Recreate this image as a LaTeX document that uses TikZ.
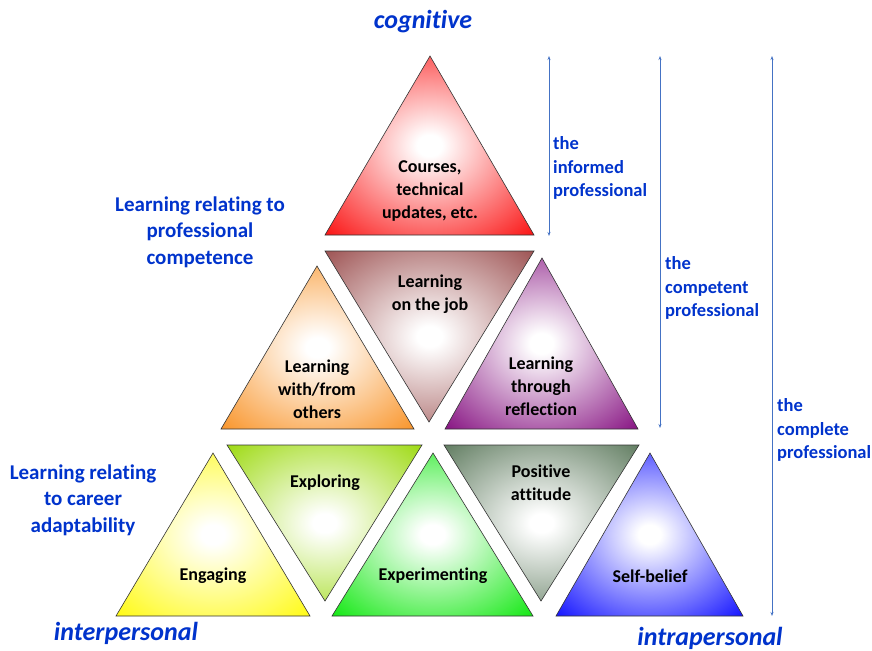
\documentclass[tikz,border=0pt]{standalone}
\usepackage{fontspec}
\setmainfont{Carlito}[Ligatures=NoCommon]
\usepackage{xcolor}
\usetikzlibrary{arrows.meta}

\definecolor{labelblue}{RGB}{0,51,204}
\definecolor{barblue}{RGB}{68,114,196}
\definecolor{coursered}{RGB}{250,0,0}
\definecolor{jobbrown}{RGB}{150,70,70}
\definecolor{othersorange}{RGB}{248,140,25}
\definecolor{reflectpurple}{RGB}{125,0,120}
\definecolor{engageyellow}{RGB}{255,250,0}
\definecolor{exploregreen}{RGB}{150,215,0}
\definecolor{experimentgreen}{RGB}{0,230,0}
\definecolor{attitudegray}{RGB}{85,115,85}
\definecolor{beliefblue}{RGB}{0,0,255}
\colorlet{glowcol}{red}

% white glow in the middle, full colour at the corners
\pgfdeclareradialshading[glowcol]{glow}{\pgfpointorigin}{%
  color(0bp)=(white); color(3bp)=(white); color(38bp)=(glowcol); color(50bp)=(glowcol)}

\begin{document}
\begin{tikzpicture}[
      x=1pt, y=-1pt,
      tint/.code={\colorlet{glowcol}{#1}},
      tri/.style={draw=black!80, line width=0.6pt, shading=glow},
      tritext/.style={font=\bfseries\fontsize{18}{23}\selectfont, align=center, text=black, inner sep=0pt},
      bluetext/.style={font=\bfseries\fontsize{21}{26.5}\selectfont, align=center, text=labelblue, inner sep=0pt},
      sidetext/.style={font=\bfseries\fontsize{18.5}{23.5}\selectfont, align=left, text=labelblue, inner sep=0pt, anchor=west},
      axistext/.style={font=\bfseries\itshape\fontsize{26}{28}\selectfont, text=labelblue, inner sep=0pt},
      bar/.style={{Stealth[length=4pt,width=3pt]}-{Stealth[length=4pt,width=3pt]}, draw=barblue, line width=0.7pt}
    ]
    \useasboundingbox (0,0) rectangle (872,650);

    % top row
    \path[tri, tint=coursered] (325,235) -- (430,56) -- (534,235) -- cycle;
    % middle row
    \path[tri, tint=othersorange] (221,429) -- (317,266) -- (414,429) -- cycle;
    \path[tri, tint=jobbrown] (325,251) -- (534,251) -- (429,422) -- cycle;
    \path[tri, tint=reflectpurple] (445,429) -- (542,258) -- (638,429) -- cycle;
    % bottom row
    \path[tri, tint=engageyellow] (116,616) -- (213,453) -- (310,616) -- cycle;
    \path[tri, tint=exploregreen] (227,445) -- (422,445) -- (325,601) -- cycle;
    \path[tri, tint=experimentgreen] (332,616) -- (433,453) -- (533,616) -- cycle;
    \path[tri, tint=attitudegray] (444,445) -- (639,445) -- (541,601) -- cycle;
    \path[tri, tint=beliefblue] (556,616) -- (650,453) -- (743,616) -- cycle;

    \node[tritext] (courses) at (430,191) {Courses,\\technical\\updates, etc.};
    \node[tritext] (onjob) at (430,294) {Learning\\on the job};
    \node[tritext] (withothers) at (317,389) {Learning\\with/from\\others};
    \node[tritext] (reflection) at (541,386) {Learning\\through\\reflection};
    \node[tritext] (engaging) at (213,576) {Engaging};
    \node[tritext] (exploring) at (325,483) {Exploring};
    \node[tritext] (experimenting) at (433,576) {Experimenting};
    \node[tritext] (attitude) at (541,483) {Positive\\attitude};
    \node[tritext] (selfbelief) at (650,576) {Self-belief};

    \node[bluetext] (competence) at (200,232) {Learning relating to\\professional\\competence};
    \node[bluetext] (career) at (83,500) {Learning relating\\to career\\adaptability};

    \node[axistext] (cognitive) at (423,22) {cognitive};
    \node[axistext] (interpersonal) at (126,633) {interpersonal};
    \node[axistext] (intrapersonal) at (710,638) {intrapersonal};

    \node[sidetext] (informed) at (553,168) {the\\informed\\professional};
    \node[sidetext] (competent) at (665,288) {the\\competent\\professional};
    \node[sidetext] (complete) at (777,430) {the\\complete\\professional};

    \coordinate (informedtop) at (549,56);
    \coordinate (informedbot) at (549,236);
    \coordinate (competenttop) at (660,56);
    \coordinate (competentbot) at (660,428);
    \coordinate (completetop) at (772,56);
    \coordinate (completebot) at (772,616);
    \draw[bar] (informedtop) -- (informedbot);
    \draw[bar] (competenttop) -- (competentbot);
    \draw[bar] (completetop) -- (completebot);
  \end{tikzpicture}
\end{document}
